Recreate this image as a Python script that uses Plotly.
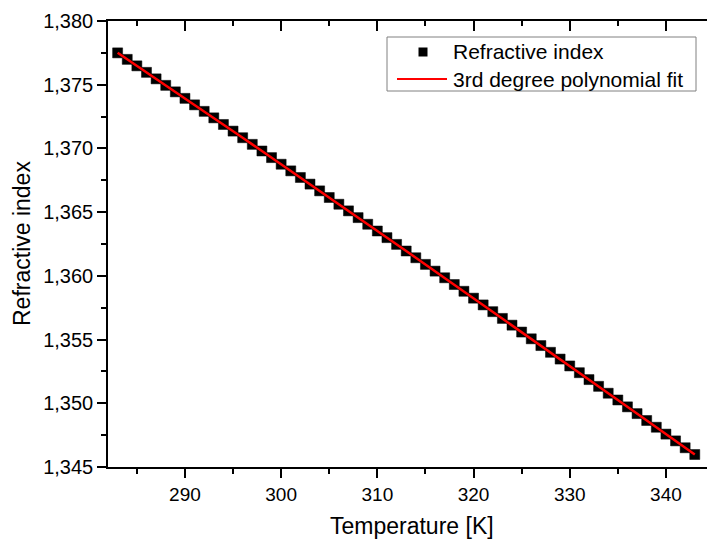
import numpy as np
import plotly.graph_objects as go

# Data
temperature_K = [283, 284, 285, 286, 287, 288, 289, 290, 291, 292,
                 293, 294, 295, 296, 297, 298, 299, 300, 301, 302,
                 303, 304, 305, 306, 307, 308, 309, 310, 311, 312,
                 313, 314, 315, 316, 317, 318, 319, 320, 321, 322,
                 323, 324, 325, 326, 327, 328, 329, 330, 331, 332,
                 333, 334, 335, 336, 337, 338, 339, 340, 341, 342, 343]
refractive_index = [1.37750, 1.37699, 1.37648, 1.37597, 1.37546, 1.37495, 1.37444, 1.37393, 1.37342, 1.37291,
                    1.37240, 1.37188, 1.37136, 1.37084, 1.37032, 1.36980, 1.36928, 1.36876, 1.36824, 1.36772,
                    1.36720, 1.36667, 1.36615, 1.36562, 1.36510, 1.36457, 1.36405, 1.36352, 1.36300, 1.36247,
                    1.36195, 1.36142, 1.36090, 1.36037, 1.35985, 1.35932, 1.35879, 1.35825, 1.35772, 1.35719,
                    1.35666, 1.35613, 1.35559, 1.35506, 1.35453, 1.35400, 1.35347, 1.35293, 1.35240, 1.35186,
                    1.35133, 1.35079, 1.35026, 1.34972, 1.34919, 1.34865, 1.34812, 1.34758, 1.34705, 1.34651, 1.34598]

series_names = ["Refractive index", "3rd degree polynomial fit"]
x_title = "Temperature [K]"
y_title = "Refractive index"

# 3rd degree polynomial fit of the data
coef = np.polyfit(temperature_K, refractive_index, 3)
fit_vals = np.polyval(coef, temperature_K)

FONT = "Liberation Sans, Arial, sans-serif"
W, H = 707, 541
ML, MR, MT, MB = 108, 0, 21, 74
PW, PH = W - ML - MR, H - MT - MB


def px(xp):  # pixel x -> paper x
    return (xp - ML) / PW


def py(yp):  # pixel y -> paper y
    return (H - MB - yp) / PH


fig = go.Figure()
fig.add_trace(go.Scatter(
    x=temperature_K, y=refractive_index, mode="markers", name=series_names[0],
    marker=dict(symbol="square", size=10, color="black", line=dict(width=0.5, color="black")),
    showlegend=False,
))
fig.add_trace(go.Scatter(
    x=temperature_K, y=list(fit_vals), mode="lines", name=series_names[1],
    line=dict(color="#ff0000", width=2.5), showlegend=False,
))
# invisible trace for the top axis
fig.add_trace(go.Scatter(x=[temperature_K[0]], y=[refractive_index[0]], xaxis="x2", yaxis="y",
                         mode="markers", marker=dict(opacity=0), showlegend=False, hoverinfo="skip"))

x_range = [282, 344.27]
y_range = [1.345, 1.380]

# legend drawn as a box with samples and text
legend_shapes = [
    dict(type="rect", xref="paper", yref="paper", x0=px(387), x1=px(696), y0=py(91), y1=py(37),
         line=dict(color="#808080", width=1), fillcolor="white", layer="above"),
    dict(type="rect", xref="paper", yref="paper", x0=px(418.5), x1=px(427.5), y0=py(56.5), y1=py(47.5),
         line=dict(width=0), fillcolor="black", layer="above"),
    dict(type="line", xref="paper", yref="paper", x0=px(397), x1=px(447), y0=py(79), y1=py(79),
         line=dict(color="#ff0000", width=2), layer="above"),
]
legend_texts = [
    dict(text=series_names[0], xref="paper", yref="paper", x=px(451), y=py(52),
         xanchor="left", yanchor="middle", showarrow=False,
         font=dict(size=21, family=FONT, color="black")),
    dict(text=series_names[1], xref="paper", yref="paper", x=px(451), y=py(79),
         xanchor="left", yanchor="middle", showarrow=False,
         font=dict(size=21, family=FONT, color="black")),
]

fig.update_layout(
    width=W, height=H,
    margin=dict(l=ML, r=MR, t=MT, b=MB),
    paper_bgcolor="white", plot_bgcolor="white",
    separators=", ",
    font=dict(family=FONT, color="black"),
    showlegend=False,
    xaxis=dict(
        range=x_range, showgrid=False, zeroline=False,
        showline=True, linecolor="black", linewidth=1.5,
        ticks="outside", ticklen=9, tickwidth=1.5, tickcolor="black",
        tick0=290, dtick=10,
        minor=dict(ticks="outside", ticklen=5, tickwidth=1.5, tickcolor="black", dtick=5, tick0=285),
        tickfont=dict(size=19, family=FONT, color="black"),
    ),
    xaxis2=dict(
        range=x_range, overlaying="x", side="top", showgrid=False, zeroline=False,
        showline=True, linecolor="black", linewidth=1.5,
        ticks="inside", ticklen=10, tickwidth=1.5, tickcolor="black",
        tick0=290, dtick=10, showticklabels=False,
        minor=dict(ticks="inside", ticklen=5, tickwidth=1.5, tickcolor="black", dtick=5, tick0=285),
    ),
    yaxis=dict(
        range=y_range, showgrid=False, zeroline=False,
        showline=True, linecolor="black", linewidth=1.5,
        ticks="outside", ticklen=9, tickwidth=1.5, tickcolor="black",
        tick0=1.345, dtick=0.005, tickformat=".3f",
        minor=dict(ticks="outside", ticklen=5, tickwidth=1.5, tickcolor="black", dtick=0.0025, tick0=1.345),
        tickfont=dict(size=20, family=FONT, color="black"),
    ),
    shapes=legend_shapes,
    annotations=legend_texts + [
        dict(text=x_title, xref="paper", yref="paper", x=px(412), y=py(526),
             xanchor="center", yanchor="middle", showarrow=False,
             font=dict(size=23, family=FONT, color="black")),
        dict(text=y_title, xref="paper", yref="paper", x=px(22), y=0.5,
             xanchor="center", yanchor="middle", showarrow=False, textangle=-90,
             font=dict(size=23, family=FONT, color="black")),
    ],
)

fig.write_html("out.html")
